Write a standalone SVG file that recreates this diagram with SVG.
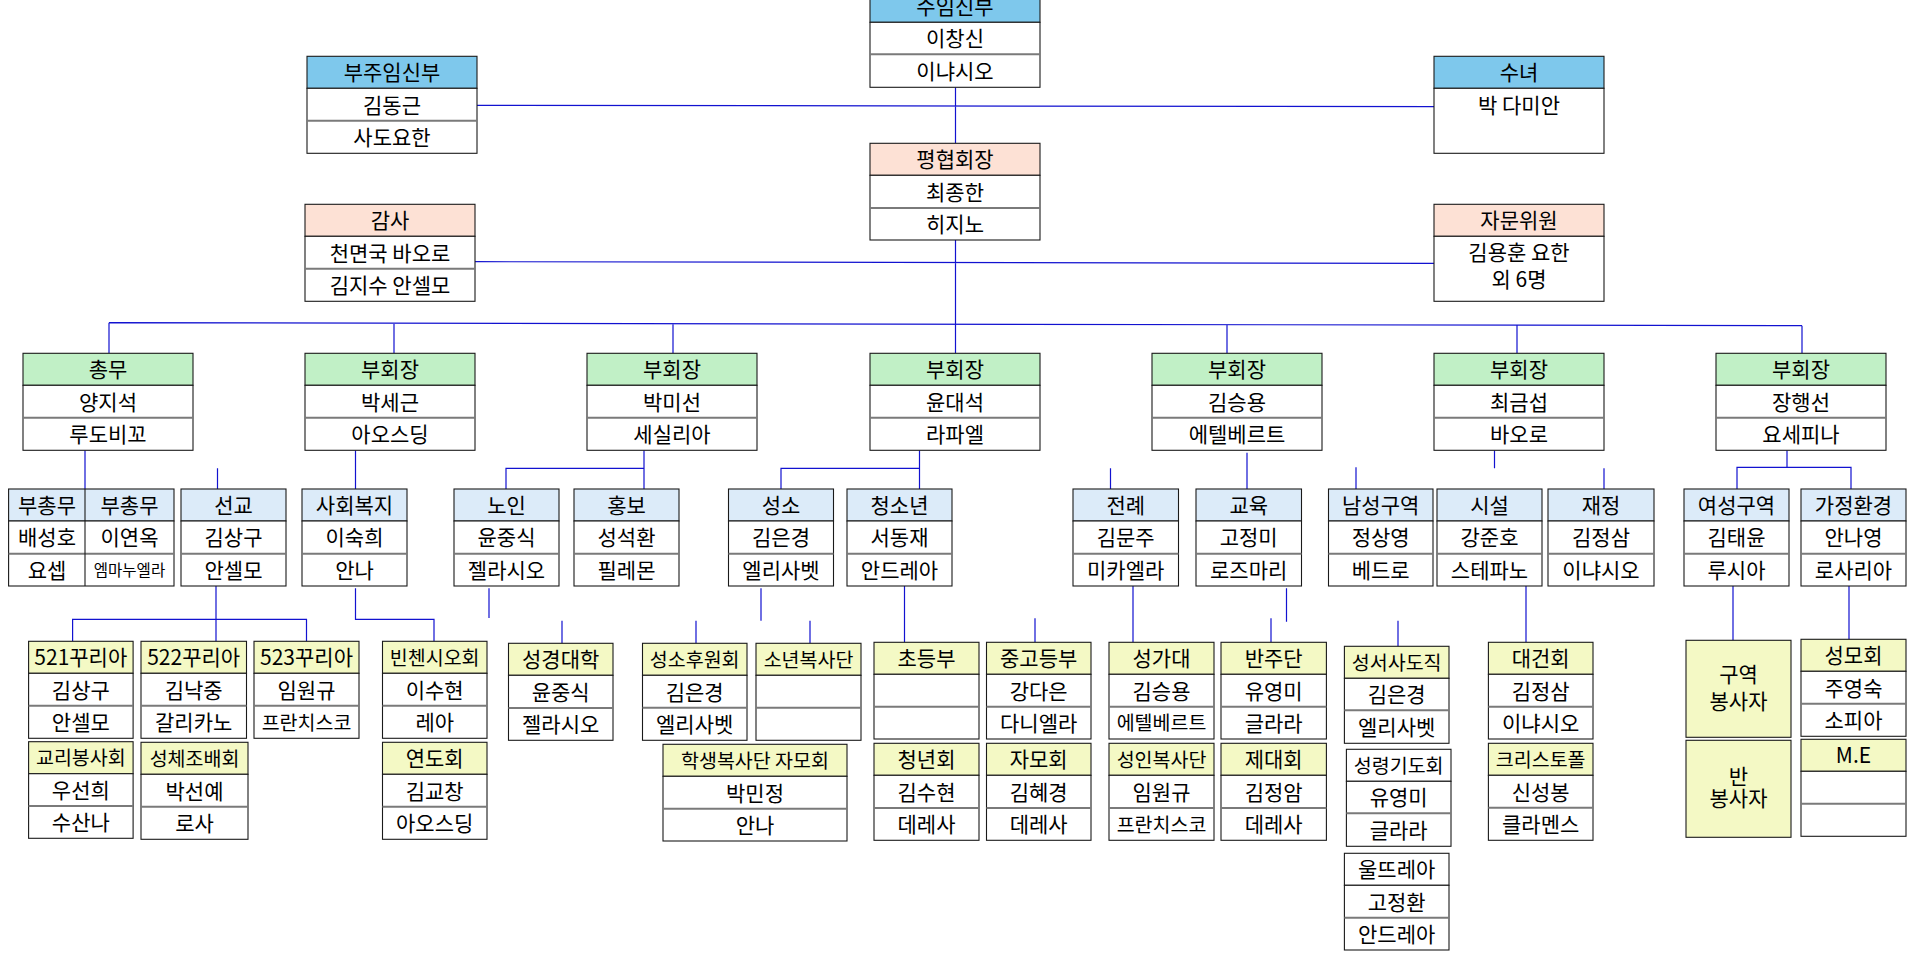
<svg xmlns="http://www.w3.org/2000/svg" width="1915" height="954" viewBox="0 0 1915 954">
<style>
text{font-family:"Noto Sans CJK KR","Noto Sans",sans-serif;font-size:21px;text-anchor:middle;dominant-baseline:central;fill:#000}
.s{font-size:19.5px}
.xs{font-size:15.5px}
g rect{stroke:#1a1a1a;stroke-width:1.1}
.bl{fill:#7EC8EC}.pe{fill:#FDE1D5}.gr{fill:#C1F0C6}.lb{fill:#DCEBF9}.ye{fill:#F4F9C5}.wh{fill:#fff}
.d{stroke:#7a7a7a;stroke-width:2}
.c path{fill:none;stroke:#1212D0;stroke-width:1.2}
</style>
<rect x="0" y="0" width="1915" height="954" fill="#fff"/>
<g class="c" id="connectors">
<path d="M955.5 87.3V143.3M477 105.3L1434 106.7M475 261.7L1434 263.3M955.5 240V353.3"/>
<path d="M109 322.7L1802 325.7M109 322.7V353.3M394 323.2V353.3M673 323.7V353.3M1227 324.7V353.3M1517 325.2V353.3M1802 325.7V353.3"/>
<path d="M85 450.3V489M217.5 468.3V489M355.5 450.3V489M644 450.3V489M644 468.3H506V489M919.5 450.3V489M919.5 468.3H781V489M1110.5 468.3V489M1247 452.7V489M1356 467.3V489M1494.5 450.3V468.3M1604 468.3V489M1787 450.3V467.3M1737 489V467.3H1851V489"/>
<path d="M216 586V641.3M72.6 641.3V619.3H306.5V641.3M355.5 588.3V619.3H434V641.3M489 588.3V618M562 620.7V643.3M761 588.3V620.7M696 620.7V643.3M810 620.7V643.3M904.5 586V642.3M1035 618.3V642.3M1133 586V642.3M1286.5 588.3V621.7M1271 618.3V642.3M1398 620.7V646.3M1526 586V642.3M1733 586V640.3M1849 586V639.3"/>
</g>

<g id="n-suim"><rect class="bl" x="870" y="-10" width="170" height="32.3"/><rect class="wh" x="870" y="22.3" width="170" height="65"/><line class="d" x1="870" y1="54.3" x2="1040" y2="54.3"/><text x="955" y="5.2">수임신부</text><text x="955" y="37.3">이창신</text><text x="955" y="69.8">이냐시오</text></g>
<g id="n-bujuim"><rect class="bl" x="307" y="56.3" width="170" height="32"/><rect class="wh" x="307" y="88.3" width="170" height="65"/><line class="d" x1="307" y1="120.7" x2="477" y2="120.7"/><text x="392" y="71.3">부주임신부</text><text x="392" y="103.5">김동근</text><text x="392" y="136">사도요한</text></g>
<g id="n-sunyeo"><rect class="bl" x="1434" y="56.3" width="170" height="32"/><rect class="wh" x="1434" y="88.3" width="170" height="65"/><text x="1519" y="71.3">수녀</text><text x="1519" y="104">박 다미안</text></g>
<g id="n-pyeong"><rect class="pe" x="870" y="143.3" width="170" height="32"/><rect class="wh" x="870" y="175.3" width="170" height="64.7"/><line class="d" x1="870" y1="208" x2="1040" y2="208"/><text x="955" y="158.3">평협회장</text><text x="955" y="190.7">최종한</text><text x="955" y="223">히지노</text></g>
<g id="n-gamsa"><rect class="pe" x="305" y="204.3" width="170" height="32"/><rect class="wh" x="305" y="236.3" width="170" height="65"/><line class="d" x1="305" y1="268.7" x2="475" y2="268.7"/><text x="390" y="219.3">감사</text><text x="390" y="251.5">천면국 바오로</text><text x="390" y="284">김지수 안셀모</text></g>
<g id="n-jamun"><rect class="pe" x="1434" y="204.3" width="170" height="32"/><rect class="wh" x="1434" y="236.3" width="170" height="65"/><text x="1519" y="219.3">자문위원</text><text x="1519" y="251">김용훈 요한</text><text x="1519" y="278">외 6명</text></g>

<g id="n-chongmu"><rect class="gr" x="23" y="353.3" width="170" height="32"/><rect class="wh" x="23" y="385.3" width="170" height="65"/><line class="d" x1="23" y1="417.7" x2="193" y2="417.7"/><text x="108" y="368.3">총무</text><text x="108" y="400.5">양지석</text><text x="108" y="433">루도비꼬</text></g>
<g id="n-vp1"><rect class="gr" x="305" y="353.3" width="170" height="32"/><rect class="wh" x="305" y="385.3" width="170" height="65"/><line class="d" x1="305" y1="417.7" x2="475" y2="417.7"/><text x="390" y="368.3">부회장</text><text x="390" y="400.5">박세근</text><text x="390" y="433">아오스딩</text></g>
<g id="n-vp2"><rect class="gr" x="587" y="353.3" width="170" height="32"/><rect class="wh" x="587" y="385.3" width="170" height="65"/><line class="d" x1="587" y1="417.7" x2="757" y2="417.7"/><text x="672" y="368.3">부회장</text><text x="672" y="400.5">박미선</text><text x="672" y="433">세실리아</text></g>
<g id="n-vp3"><rect class="gr" x="870" y="353.3" width="170" height="32"/><rect class="wh" x="870" y="385.3" width="170" height="65"/><line class="d" x1="870" y1="417.7" x2="1040" y2="417.7"/><text x="955" y="368.3">부회장</text><text x="955" y="400.5">윤대석</text><text x="955" y="433">라파엘</text></g>
<g id="n-vp4"><rect class="gr" x="1152" y="353.3" width="170" height="32"/><rect class="wh" x="1152" y="385.3" width="170" height="65"/><line class="d" x1="1152" y1="417.7" x2="1322" y2="417.7"/><text x="1237" y="368.3">부회장</text><text x="1237" y="400.5">김승용</text><text x="1237" y="433">에텔베르트</text></g>
<g id="n-vp5"><rect class="gr" x="1434" y="353.3" width="170" height="32"/><rect class="wh" x="1434" y="385.3" width="170" height="65"/><line class="d" x1="1434" y1="417.7" x2="1604" y2="417.7"/><text x="1519" y="368.3">부회장</text><text x="1519" y="400.5">최금섭</text><text x="1519" y="433">바오로</text></g>
<g id="n-vp6"><rect class="gr" x="1716" y="353.3" width="170" height="32"/><rect class="wh" x="1716" y="385.3" width="170" height="65"/><line class="d" x1="1716" y1="417.7" x2="1886" y2="417.7"/><text x="1801" y="368.3">부회장</text><text x="1801" y="400.5">장행선</text><text x="1801" y="433">요세피나</text></g>

<g id="n-buchongmu"><rect class="lb" x="8.6" y="489" width="165.4" height="32"/><rect class="wh" x="8.6" y="521" width="165.4" height="65"/><line class="d" x1="8.6" y1="553.7" x2="174" y2="553.7"/><line x1="85" y1="489" x2="85" y2="586" stroke="#1a1a1a" stroke-width="1.1"/><text x="47" y="504">부총무</text><text x="129.5" y="504">부총무</text><text x="47" y="536.3">배성호</text><text x="129.5" y="536.3">이연옥</text><text x="47" y="568.8">요셉</text><text class="xs" x="129.5" y="568.8">엠마누엘라</text></g>
<g id="n-seongyo"><rect class="lb" x="181" y="489" width="105" height="32"/><rect class="wh" x="181" y="521" width="105" height="65"/><line class="d" x1="181" y1="553.7" x2="286" y2="553.7"/><text x="233.5" y="504">선교</text><text x="233.5" y="536.3">김상구</text><text x="233.5" y="568.8">안셀모</text></g>
<g id="n-sahoe"><rect class="lb" x="302" y="489" width="105" height="32"/><rect class="wh" x="302" y="521" width="105" height="65"/><line class="d" x1="302" y1="553.7" x2="407" y2="553.7"/><text x="354.5" y="504">사회복지</text><text x="354.5" y="536.3">이숙희</text><text x="354.5" y="568.8">안나</text></g>
<g id="n-noin"><rect class="lb" x="454" y="489" width="105" height="32"/><rect class="wh" x="454" y="521" width="105" height="65"/><line class="d" x1="454" y1="553.7" x2="559" y2="553.7"/><text x="506.5" y="504">노인</text><text x="506.5" y="536.3">윤중식</text><text x="506.5" y="568.8">젤라시오</text></g>
<g id="n-hongbo"><rect class="lb" x="574" y="489" width="105" height="32"/><rect class="wh" x="574" y="521" width="105" height="65"/><line class="d" x1="574" y1="553.7" x2="679" y2="553.7"/><text x="626.5" y="504">홍보</text><text x="626.5" y="536.3">성석환</text><text x="626.5" y="568.8">필레몬</text></g>
<g id="n-seongso"><rect class="lb" x="728.5" y="489" width="105" height="32"/><rect class="wh" x="728.5" y="521" width="105" height="65"/><line class="d" x1="728.5" y1="553.7" x2="833.5" y2="553.7"/><text x="781" y="504">성소</text><text x="781" y="536.3">김은경</text><text x="781" y="568.8">엘리사벳</text></g>
<g id="n-cheongso"><rect class="lb" x="847" y="489" width="105" height="32"/><rect class="wh" x="847" y="521" width="105" height="65"/><line class="d" x1="847" y1="553.7" x2="952" y2="553.7"/><text x="899.5" y="504">청소년</text><text x="899.5" y="536.3">서동재</text><text x="899.5" y="568.8">안드레아</text></g>
<g id="n-jeollye"><rect class="lb" x="1073" y="489" width="105.5" height="32"/><rect class="wh" x="1073" y="521" width="105.5" height="65"/><line class="d" x1="1073" y1="553.7" x2="1178.5" y2="553.7"/><text x="1125.7" y="504">전례</text><text x="1125.7" y="536.3">김문주</text><text x="1125.7" y="568.8">미카엘라</text></g>
<g id="n-gyoyuk"><rect class="lb" x="1196" y="489" width="105.5" height="32"/><rect class="wh" x="1196" y="521" width="105.5" height="65"/><line class="d" x1="1196" y1="553.7" x2="1301.5" y2="553.7"/><text x="1248.7" y="504">교육</text><text x="1248.7" y="536.3">고정미</text><text x="1248.7" y="568.8">로즈마리</text></g>
<g id="n-namseong"><rect class="lb" x="1328.5" y="489" width="104.5" height="32"/><rect class="wh" x="1328.5" y="521" width="104.5" height="65"/><line class="d" x1="1328.5" y1="553.7" x2="1433" y2="553.7"/><text x="1380.7" y="504">남성구역</text><text x="1380.7" y="536.3">정상영</text><text x="1380.7" y="568.8">베드로</text></g>
<g id="n-siseol"><rect class="lb" x="1437" y="489" width="105" height="32"/><rect class="wh" x="1437" y="521" width="105" height="65"/><line class="d" x1="1437" y1="553.7" x2="1542" y2="553.7"/><text x="1489.5" y="504">시설</text><text x="1489.5" y="536.3">강준호</text><text x="1489.5" y="568.8">스테파노</text></g>
<g id="n-jaejeong"><rect class="lb" x="1548" y="489" width="106" height="32"/><rect class="wh" x="1548" y="521" width="106" height="65"/><line class="d" x1="1548" y1="553.7" x2="1654" y2="553.7"/><text x="1601" y="504">재정</text><text x="1601" y="536.3">김정삼</text><text x="1601" y="568.8">이냐시오</text></g>
<g id="n-yeoseong"><rect class="lb" x="1684" y="489" width="105" height="32"/><rect class="wh" x="1684" y="521" width="105" height="65"/><line class="d" x1="1684" y1="553.7" x2="1789" y2="553.7"/><text x="1736.5" y="504">여성구역</text><text x="1736.5" y="536.3">김태윤</text><text x="1736.5" y="568.8">루시아</text></g>
<g id="n-gajeong"><rect class="lb" x="1801" y="489" width="105" height="32"/><rect class="wh" x="1801" y="521" width="105" height="65"/><line class="d" x1="1801" y1="553.7" x2="1906" y2="553.7"/><text x="1853.5" y="504">가정환경</text><text x="1853.5" y="536.3">안나영</text><text x="1853.5" y="568.8">로사리아</text></g>

<g id="n-521"><rect class="ye" x="28.6" y="641.3" width="104.5" height="32"/><rect class="wh" x="28.6" y="673.3" width="104.5" height="65"/><line class="d" x1="28.6" y1="705.7" x2="133.1" y2="705.7"/><text x="80.8" y="656.3">521꾸리아</text><text x="80.8" y="688.5">김상구</text><text x="80.8" y="721">안셀모</text></g>
<g id="n-gyori"><rect class="ye" x="28.6" y="741.7" width="104.5" height="32"/><rect class="wh" x="28.6" y="773.7" width="104.5" height="64.6"/><line class="d" x1="28.6" y1="806" x2="133.1" y2="806"/><text class="s" x="80.8" y="756.7">교리봉사회</text><text x="80.8" y="788.8">우선희</text><text x="80.8" y="821.2">수산나</text></g>
<g id="n-522"><rect class="ye" x="141" y="641.3" width="105.5" height="32"/><rect class="wh" x="141" y="673.3" width="105.5" height="65"/><line class="d" x1="141" y1="705.7" x2="246.5" y2="705.7"/><text x="193.7" y="656.3">522꾸리아</text><text x="193.7" y="688.5">김낙중</text><text x="193.7" y="721">갈리카노</text></g>
<g id="n-seongche"><rect class="ye" x="141" y="742.3" width="107" height="32"/><rect class="wh" x="141" y="774.3" width="107" height="65"/><line class="d" x1="141" y1="806.7" x2="248" y2="806.7"/><text class="s" x="194.5" y="757.3">성체조배회</text><text x="194.5" y="789.5">박선예</text><text x="194.5" y="822">로사</text></g>
<g id="n-523"><rect class="ye" x="254" y="641.3" width="105" height="32"/><rect class="wh" x="254" y="673.3" width="105" height="65"/><line class="d" x1="254" y1="705.7" x2="359" y2="705.7"/><text x="306.5" y="656.3">523꾸리아</text><text x="306.5" y="688.5">임원규</text><text class="s" x="306.5" y="721">프란치스코</text></g>
<g id="n-vincent"><rect class="ye" x="382.5" y="641.3" width="104.5" height="32"/><rect class="wh" x="382.5" y="673.3" width="104.5" height="65"/><line class="d" x1="382.5" y1="705.7" x2="487" y2="705.7"/><text class="s" x="434.7" y="656.3">빈첸시오회</text><text x="434.7" y="688.5">이수현</text><text x="434.7" y="721">레아</text></g>
<g id="n-yeondo"><rect class="ye" x="382.5" y="742.3" width="104.5" height="32"/><rect class="wh" x="382.5" y="774.3" width="104.5" height="65"/><line class="d" x1="382.5" y1="806.7" x2="487" y2="806.7"/><text x="434.7" y="757.3">연도회</text><text x="434.7" y="789.5">김교창</text><text x="434.7" y="822">아오스딩</text></g>
<g id="n-bible"><rect class="ye" x="508.5" y="643.3" width="104.5" height="32"/><rect class="wh" x="508.5" y="675.3" width="104.5" height="65"/><line class="d" x1="508.5" y1="708" x2="613" y2="708"/><text x="560.7" y="658.3">성경대학</text><text x="560.7" y="690.6">윤중식</text><text x="560.7" y="723.2">젤라시오</text></g>
<g id="n-huwon"><rect class="ye" x="642.5" y="643.3" width="104.5" height="32"/><rect class="wh" x="642.5" y="675.3" width="104.5" height="65"/><line class="d" x1="642.5" y1="707.7" x2="747" y2="707.7"/><text class="s" x="694.7" y="658.3">성소후원회</text><text x="694.7" y="690.5">김은경</text><text x="694.7" y="723">엘리사벳</text></g>
<g id="n-sonyeon"><rect class="ye" x="756" y="643.3" width="105" height="32"/><rect class="wh" x="756" y="675.3" width="105" height="65"/><line class="d" x1="756" y1="707.7" x2="861" y2="707.7"/><text class="s" x="808.5" y="658.3">소년복사단</text></g>
<g id="n-hakjamo"><rect class="ye" x="663" y="744.3" width="184" height="32"/><rect class="wh" x="663" y="776.3" width="184" height="64.7"/><line class="d" x1="663" y1="808.7" x2="847" y2="808.7"/><text class="s" x="755" y="759.3">학생복사단 자모회</text><text x="755" y="791.5">박민정</text><text x="755" y="823.8">안나</text></g>
<g id="n-chodeung"><rect class="ye" x="874" y="642.3" width="105" height="32"/><rect class="wh" x="874" y="674.3" width="105" height="64.7"/><line class="d" x1="874" y1="706.7" x2="979" y2="706.7"/><text x="926.5" y="657.3">초등부</text></g>
<g id="n-junggo"><rect class="ye" x="986.5" y="642.3" width="104.5" height="32"/><rect class="wh" x="986.5" y="674.3" width="104.5" height="64.7"/><line class="d" x1="986.5" y1="706.7" x2="1091" y2="706.7"/><text x="1038.7" y="657.3">중고등부</text><text x="1038.7" y="689.5">강다은</text><text x="1038.7" y="721.8">다니엘라</text></g>
<g id="n-cheongnyeon"><rect class="ye" x="874" y="743.3" width="105" height="32"/><rect class="wh" x="874" y="775.3" width="105" height="65"/><line class="d" x1="874" y1="808" x2="979" y2="808"/><text x="926.5" y="758.3">청년회</text><text x="926.5" y="790.6">김수현</text><text x="926.5" y="823.2">데레사</text></g>
<g id="n-jamo"><rect class="ye" x="986.5" y="743.3" width="104.5" height="32"/><rect class="wh" x="986.5" y="775.3" width="104.5" height="65"/><line class="d" x1="986.5" y1="808" x2="1091" y2="808"/><text x="1038.7" y="758.3">자모회</text><text x="1038.7" y="790.6">김혜경</text><text x="1038.7" y="823.2">데레사</text></g>
<g id="n-seonggadae"><rect class="ye" x="1109" y="642.3" width="105" height="32"/><rect class="wh" x="1109" y="674.3" width="105" height="64.7"/><line class="d" x1="1109" y1="706.7" x2="1214" y2="706.7"/><text x="1161.5" y="657.3">성가대</text><text x="1161.5" y="689.5">김승용</text><text class="s" x="1161.5" y="721.8">에텔베르트</text></g>
<g id="n-seongin"><rect class="ye" x="1109" y="743.3" width="105" height="32"/><rect class="wh" x="1109" y="775.3" width="105" height="65"/><line class="d" x1="1109" y1="808" x2="1214" y2="808"/><text class="s" x="1161.5" y="758.3">성인복사단</text><text x="1161.5" y="790.6">임원규</text><text class="s" x="1161.5" y="823.2">프란치스코</text></g>
<g id="n-banju"><rect class="ye" x="1221" y="642.3" width="105.4" height="32"/><rect class="wh" x="1221" y="674.3" width="105.4" height="64.7"/><line class="d" x1="1221" y1="706.7" x2="1326.4" y2="706.7"/><text x="1273.7" y="657.3">반주단</text><text x="1273.7" y="689.5">유영미</text><text x="1273.7" y="721.8">글라라</text></g>
<g id="n-jedae"><rect class="ye" x="1221" y="743.3" width="105.4" height="32"/><rect class="wh" x="1221" y="775.3" width="105.4" height="65"/><line class="d" x1="1221" y1="808" x2="1326.4" y2="808"/><text x="1273.7" y="758.3">제대회</text><text x="1273.7" y="790.6">김정암</text><text x="1273.7" y="823.2">데레사</text></g>
<g id="n-seongseo"><rect class="ye" x="1344.4" y="646.3" width="104.6" height="32"/><rect class="wh" x="1344.4" y="678.3" width="104.6" height="65"/><line class="d" x1="1344.4" y1="710.3" x2="1449" y2="710.3"/><text class="s" x="1396.7" y="661.3">성서사도직</text><text x="1396.7" y="693.3">김은경</text><text x="1396.7" y="725.8">엘리사벳</text></g>
<g id="n-seongnyeong"><rect class="wh" x="1346.4" y="749.3" width="104.6" height="32"/><rect class="wh" x="1346.4" y="781.3" width="104.6" height="65"/><line class="d" x1="1346.4" y1="813.3" x2="1451" y2="813.3"/><text class="s" x="1398.7" y="764.3">성령기도회</text><text x="1398.7" y="796.3">유영미</text><text x="1398.7" y="828.8">글라라</text></g>
<g id="n-ultreya"><rect class="wh" x="1344.4" y="853.3" width="104.6" height="32"/><rect class="wh" x="1344.4" y="885.3" width="104.6" height="64.7"/><line class="d" x1="1344.4" y1="917.7" x2="1449" y2="917.7"/><text x="1396.7" y="868.3">울뜨레아</text><text x="1396.7" y="900.5">고정환</text><text x="1396.7" y="932.8">안드레아</text></g>
<g id="n-daegeon"><rect class="ye" x="1488.4" y="642.3" width="104.6" height="32"/><rect class="wh" x="1488.4" y="674.3" width="104.6" height="64.7"/><line class="d" x1="1488.4" y1="706.7" x2="1593" y2="706.7"/><text x="1540.7" y="657.3">대건회</text><text x="1540.7" y="689.5">김정삼</text><text x="1540.7" y="721.8">이냐시오</text></g>
<g id="n-christopher"><rect class="ye" x="1488.4" y="743.3" width="104.6" height="32"/><rect class="wh" x="1488.4" y="775.3" width="104.6" height="65"/><line class="d" x1="1488.4" y1="807.7" x2="1593" y2="807.7"/><text class="s" x="1540.7" y="758.3">크리스토폴</text><text x="1540.7" y="790.5">신성봉</text><text x="1540.7" y="823">클라멘스</text></g>
<g id="n-guyeok"><rect class="ye" x="1686" y="640.3" width="105" height="97"/><text x="1738.5" y="673">구역</text><text x="1738.5" y="700">봉사자</text></g>
<g id="n-ban"><rect class="ye" x="1686" y="740.3" width="105" height="97"/><text x="1738.5" y="775">반</text><text x="1738.5" y="797">봉사자</text></g>
<g id="n-seongmo"><rect class="ye" x="1801" y="639.3" width="105" height="32"/><rect class="wh" x="1801" y="671.3" width="105" height="65"/><line class="d" x1="1801" y1="703.7" x2="1906" y2="703.7"/><text x="1853.5" y="654.3">성모회</text><text x="1853.5" y="686.5">주영숙</text><text x="1853.5" y="719">소피아</text></g>
<g id="n-me"><rect class="ye" x="1801" y="739.3" width="105" height="32"/><rect class="wh" x="1801" y="771.3" width="105" height="65"/><line class="d" x1="1801" y1="803.7" x2="1906" y2="803.7"/><text x="1853.5" y="754.3">M.E</text></g>
</svg>
